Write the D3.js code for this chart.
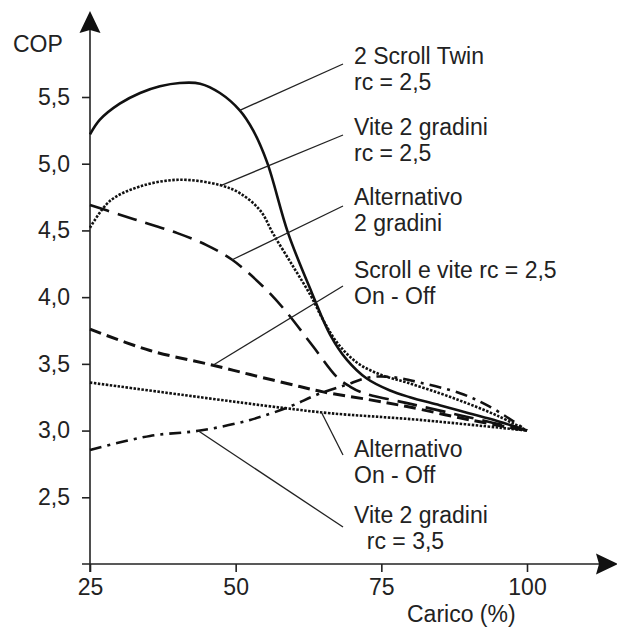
<!DOCTYPE html>
<html>
<head>
<meta charset="utf-8">
<script src="https://cdn.jsdelivr.net/npm/d3@7/dist/d3.min.js"></script>
<style>
  html, body { margin: 0; padding: 0; background: #fff; }
  svg { display: block; }
  text { font-family: "Liberation Sans", Arial, Helvetica, sans-serif; fill: #222; }
</style>
</head>
<body>
<svg id="chart" width="617" height="627"></svg>
<script>
// ---------- data ----------
const xTicks = [25, 50, 75, 100];
const xTickLabels = ["25", "50", "75", "100"];
const yTicks = [2.5, 3.0, 3.5, 4.0, 4.5, 5.0, 5.5];
const yTickLabels = ["2,5", "3,0", "3,5", "4,0", "4,5", "5,0", "5,5"];

const scrollTwinLoad = [25, 26.7, 30.1, 33.6, 37, 40.4, 43.9, 47.3, 50.7, 53, 55.4, 59, 63.1, 66.2, 69.1, 72.5, 76.5, 79.9, 85, 90, 95, 100];
const scrollTwinCop  = [5.22, 5.33, 5.45, 5.53, 5.58, 5.605, 5.60, 5.53, 5.40, 5.25, 5.01, 4.48, 4.03, 3.72, 3.53, 3.39, 3.30, 3.25, 3.19, 3.13, 3.07, 3.0];

const vite25Load = [25, 28.4, 33.6, 40.4, 47.3, 50.7, 54.2, 56.5, 60, 62.9, 65, 67.4, 70.8, 74.8, 79.4, 85, 90, 95, 100];
const vite25Cop  = [4.52, 4.72, 4.83, 4.88, 4.84, 4.78, 4.65, 4.47, 4.22, 4.01, 3.83, 3.66, 3.51, 3.42, 3.36, 3.28, 3.20, 3.11, 3.0];

const alt2Load = [25, 30, 35, 40, 45, 49.4, 54.7, 58.5, 63.3, 67.4, 69.6, 72, 80, 90, 100];
const alt2Cop  = [4.69, 4.62, 4.55, 4.48, 4.39, 4.28, 4.08, 3.90, 3.63, 3.40, 3.33, 3.28, 3.20, 3.10, 3.0];

const onOffLoad = [25, 35.3, 46.1, 52.5, 61, 65, 73.1, 79.4, 90.2, 100];
const onOffCop  = [3.76, 3.60, 3.49, 3.42, 3.33, 3.29, 3.23, 3.18, 3.08, 3.0];

const altOnOffLoad = [25, 43.9, 58.1, 66.2, 81.6, 100];
const altOnOffCop  = [3.36, 3.25, 3.17, 3.13, 3.08, 3.0];

const vite35Load = [25, 35.3, 43.9, 52.5, 59.3, 64, 68.8, 73.1, 77, 81.6, 88.5, 93.6, 100];
const vite35Cop  = [2.855, 2.96, 3.0, 3.08, 3.18, 3.27, 3.34, 3.40, 3.40, 3.36, 3.28, 3.18, 3.0];

const labelLines = [
  ["2 Scroll Twin", "rc = 2,5"],
  ["Vite 2 gradini", "rc = 2,5"],
  ["Alternativo", "2 gradini"],
  ["Scroll e vite rc = 2,5", "On - Off"],
  ["Alternativo", "On - Off"],
  ["Vite 2 gradini", "  rc = 3,5"]
];
// point on each curve where the leader line ends (load, COP)
const leaderLoad = [50.7, 47.65, 49.4, 46.1, 64.8, 43.5];
const leaderCop  = [5.40, 4.84, 4.28, 3.49, 3.13, 3.0];

// ---------- layout ----------
const svg = d3.select("#chart");
const x = d3.scaleLinear().domain([25, 100]).range([90, 527]);
const y = d3.scaleLinear().domain([2, 5.5]).range([564, 97]);

const series = [
  { load: scrollTwinLoad, cop: scrollTwinCop, w: 2.6, dash: null },
  { load: vite25Load, cop: vite25Cop, w: 2.6, dash: "2.5,1.5" },
  { load: alt2Load, cop: alt2Cop, w: 2.6, dash: "20,9" },
  { load: onOffLoad, cop: onOffCop, w: 3, dash: "12,6" },
  { load: altOnOffLoad, cop: altOnOffCop, w: 2.6, dash: "2.5,1.5" },
  { load: vite35Load, cop: vite35Cop, w: 2.6, dash: "12,6,3,6" }
];

// axes
const yAxis = d3.axisLeft(y).tickValues(yTicks).tickSize(8).tickPadding(12)
  .tickFormat((d, i) => yTickLabels[i]);
const xAxis = d3.axisBottom(x).tickValues(xTicks).tickSize(8).tickPadding(7)
  .tickFormat((d, i) => xTickLabels[i]);

const gy = svg.append("g").attr("transform", "translate(90,0)").call(yAxis);
const gx = svg.append("g").attr("transform", "translate(0,564)").call(xAxis);
[gy, gx].forEach(g => {
  g.select(".domain").remove();
  g.selectAll(".tick line").attr("stroke", "#222").attr("stroke-width", 1.6);
  g.selectAll(".tick text").attr("font-size", 23).attr("fill", "#222")
    .style("font-family", "'Liberation Sans', Arial, sans-serif");
});

// axis lines with arrows
svg.append("line").attr("x1", 90).attr("x2", 90).attr("y1", 572).attr("y2", 30)
  .attr("stroke", "#222").attr("stroke-width", 1.6);
svg.append("line").attr("x1", 82).attr("x2", 600).attr("y1", 564).attr("y2", 564)
  .attr("stroke", "#222").attr("stroke-width", 1.6);
svg.append("path").attr("d", "M90,11 L100.5,33 L90,30 L79.5,33 Z").attr("fill", "#111");
svg.append("path").attr("d", "M618,564 L596,553.5 L599,564 L596,574.5 Z").attr("fill", "#111");

svg.append("text").attr("x", 13).attr("y", 52).attr("font-size", 23).text("COP");
svg.append("text").attr("x", 407).attr("y", 622).attr("font-size", 23).text("Carico (%)");

// curves
const line = d3.line().curve(d3.curveCatmullRom.alpha(0.5));
series.forEach(s => {
  const pts = s.load.map((l, i) => [x(l), y(s.cop[i])]);
  const p = svg.append("path").attr("d", line(pts)).attr("fill", "none")
    .attr("stroke", "#111").attr("stroke-width", s.w).attr("stroke-linejoin", "round");
  if (s.dash) p.attr("stroke-dasharray", s.dash);
});

// labels and leader lines
const labelX = [354, 354, 354, 354, 354, 354];
const labelY = [64, 135, 205, 278, 457, 523];
const leaderStart = [[343, 64], [343, 135], [343, 206], [343, 286], [343, 455], [343, 527]];
labelLines.forEach((lines, i) => {
  const t = svg.append("text").attr("x", labelX[i]).attr("y", labelY[i]).attr("font-size", 23)
    .attr("xml:space", "preserve").style("white-space", "pre");
  lines.forEach((ln, j) => {
    t.append("tspan").attr("x", labelX[i]).attr("dy", j === 0 ? 0 : 25.5).text(ln);
  });
  svg.append("line")
    .attr("x1", leaderStart[i][0]).attr("y1", leaderStart[i][1])
    .attr("x2", x(leaderLoad[i])).attr("y2", y(leaderCop[i]))
    .attr("stroke", "#222").attr("stroke-width", 1.3);
});
</script>
</body>
</html>
